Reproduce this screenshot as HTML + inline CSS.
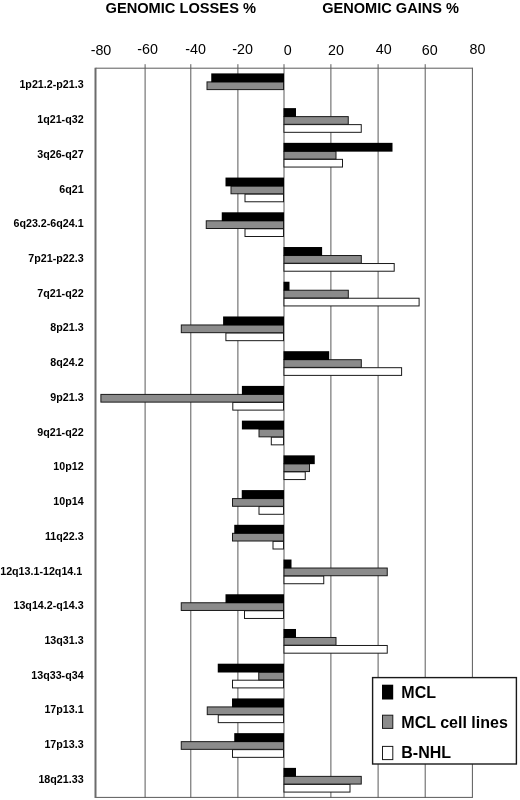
<!DOCTYPE html>
<html><head><meta charset="utf-8"><title>Genomic losses and gains</title>
<style>
html,body{margin:0;padding:0;background:#fff;}
body{width:520px;height:800px;overflow:hidden;}
svg{display:block;}
text{font-family:"Liberation Sans",Arial,sans-serif;fill:#000;}
.t{font-size:15.5px;font-weight:bold;}
.a{font-size:14.3px;text-anchor:middle;}
.c{font-size:10.7px;font-weight:bold;text-anchor:end;}
.l{font-size:16px;font-weight:bold;}
</style></head><body>
<svg width="520" height="800" viewBox="0 0 520 800">
<rect width="520" height="800" fill="#fff"/>
<text class="t" x="105.5" y="13.2" textLength="150.5" lengthAdjust="spacingAndGlyphs">GENOMIC LOSSES %</text>
<text class="t" x="322.2" y="13.2" textLength="136.8" lengthAdjust="spacingAndGlyphs">GENOMIC GAINS %</text>
<text class="a" x="101.00" y="54.9">-80</text>
<text class="a" x="147.55" y="53.8">-60</text>
<text class="a" x="195.60" y="53.8">-40</text>
<text class="a" x="242.55" y="54.2">-20</text>
<text class="a" x="287.85" y="54.5">0</text>
<text class="a" x="336.00" y="54.9">20</text>
<text class="a" x="383.65" y="53.6">40</text>
<text class="a" x="429.75" y="54.9">60</text>
<text class="a" x="477.45" y="53.6">80</text>
<line x1="145.1" y1="64.2" x2="145.1" y2="797.9" stroke="#5a5a5a" stroke-width="1"/>
<line x1="190.8" y1="64.2" x2="190.8" y2="797.9" stroke="#5a5a5a" stroke-width="1"/>
<line x1="237.9" y1="64.2" x2="237.9" y2="797.9" stroke="#5a5a5a" stroke-width="1"/>
<line x1="284.0" y1="64.2" x2="284.0" y2="797.9" stroke="#5a5a5a" stroke-width="1"/>
<line x1="330.9" y1="64.2" x2="330.9" y2="797.9" stroke="#5a5a5a" stroke-width="1"/>
<line x1="378.1" y1="64.2" x2="378.1" y2="797.9" stroke="#5a5a5a" stroke-width="1"/>
<line x1="425.2" y1="64.2" x2="425.2" y2="797.9" stroke="#5a5a5a" stroke-width="1"/>
<line x1="95.6" y1="68.2" x2="472.4" y2="68.2" stroke="#5a5a5a" stroke-width="1"/>
<line x1="95.6" y1="797.4" x2="472.4" y2="797.4" stroke="#5a5a5a" stroke-width="1"/>
<line x1="95.5" y1="67.7" x2="95.5" y2="797.9" stroke="#6c6c6c" stroke-width="2"/>
<line x1="472.4" y1="67.7" x2="472.4" y2="797.9" stroke="#5a5a5a" stroke-width="1"/>
<text class="c" x="83.6" y="88.4">1p21.2-p21.3</text>
<rect x="207.00" y="81.90" width="76.50" height="7.70" fill="#8b8b8b" stroke="#1a1a1a" stroke-width="1"/>
<rect x="211.25" y="73.40" width="72.75" height="8.80" fill="#000"/>
<text class="c" x="83.6" y="123.1">1q21-q32</text>
<rect x="284.00" y="124.62" width="77.25" height="7.70" fill="#fff" stroke="#1a1a1a" stroke-width="1"/>
<rect x="284.00" y="116.62" width="64.25" height="7.70" fill="#8b8b8b" stroke="#1a1a1a" stroke-width="1"/>
<rect x="283.50" y="108.12" width="12.50" height="8.80" fill="#000"/>
<text class="c" x="83.6" y="157.8">3q26-q27</text>
<rect x="284.00" y="159.35" width="58.50" height="7.70" fill="#fff" stroke="#1a1a1a" stroke-width="1"/>
<rect x="284.00" y="151.35" width="52.00" height="7.70" fill="#8b8b8b" stroke="#1a1a1a" stroke-width="1"/>
<rect x="283.50" y="142.85" width="109.00" height="8.80" fill="#000"/>
<text class="c" x="83.6" y="192.5">6q21</text>
<rect x="245.00" y="194.07" width="38.50" height="7.70" fill="#fff" stroke="#1a1a1a" stroke-width="1"/>
<rect x="231.00" y="186.07" width="52.50" height="7.70" fill="#8b8b8b" stroke="#1a1a1a" stroke-width="1"/>
<rect x="225.50" y="177.57" width="58.50" height="8.80" fill="#000"/>
<text class="c" x="83.6" y="227.3">6q23.2-6q24.1</text>
<rect x="245.00" y="228.80" width="38.50" height="7.70" fill="#fff" stroke="#1a1a1a" stroke-width="1"/>
<rect x="206.25" y="220.80" width="77.25" height="7.70" fill="#8b8b8b" stroke="#1a1a1a" stroke-width="1"/>
<rect x="221.75" y="212.30" width="62.25" height="8.80" fill="#000"/>
<text class="c" x="83.6" y="262.0">7p21-p22.3</text>
<rect x="284.00" y="263.52" width="110.20" height="7.70" fill="#fff" stroke="#1a1a1a" stroke-width="1"/>
<rect x="284.00" y="255.52" width="77.30" height="7.70" fill="#8b8b8b" stroke="#1a1a1a" stroke-width="1"/>
<rect x="283.50" y="247.02" width="38.60" height="8.80" fill="#000"/>
<text class="c" x="83.6" y="296.7">7q21-q22</text>
<rect x="284.00" y="298.24" width="135.10" height="7.70" fill="#fff" stroke="#1a1a1a" stroke-width="1"/>
<rect x="284.00" y="290.24" width="64.30" height="7.70" fill="#8b8b8b" stroke="#1a1a1a" stroke-width="1"/>
<rect x="283.50" y="281.74" width="6.00" height="8.80" fill="#000"/>
<text class="c" x="83.6" y="331.4">8p21.3</text>
<rect x="225.90" y="332.97" width="57.60" height="7.70" fill="#fff" stroke="#1a1a1a" stroke-width="1"/>
<rect x="181.30" y="324.97" width="102.20" height="7.70" fill="#8b8b8b" stroke="#1a1a1a" stroke-width="1"/>
<rect x="223.10" y="316.47" width="60.90" height="8.80" fill="#000"/>
<text class="c" x="83.6" y="366.2">8q24.2</text>
<rect x="284.00" y="367.69" width="117.60" height="7.70" fill="#fff" stroke="#1a1a1a" stroke-width="1"/>
<rect x="284.00" y="359.69" width="77.30" height="7.70" fill="#8b8b8b" stroke="#1a1a1a" stroke-width="1"/>
<rect x="283.50" y="351.19" width="45.70" height="8.80" fill="#000"/>
<text class="c" x="83.6" y="400.9">9p21.3</text>
<rect x="232.80" y="402.41" width="50.70" height="7.70" fill="#fff" stroke="#1a1a1a" stroke-width="1"/>
<rect x="100.90" y="394.41" width="182.60" height="7.70" fill="#8b8b8b" stroke="#1a1a1a" stroke-width="1"/>
<rect x="241.90" y="385.91" width="42.10" height="8.80" fill="#000"/>
<text class="c" x="83.6" y="435.6">9q21-q22</text>
<rect x="271.30" y="437.14" width="12.20" height="7.70" fill="#fff" stroke="#1a1a1a" stroke-width="1"/>
<rect x="259.00" y="429.14" width="24.50" height="7.70" fill="#8b8b8b" stroke="#1a1a1a" stroke-width="1"/>
<rect x="241.90" y="420.64" width="42.10" height="8.80" fill="#000"/>
<text class="c" x="83.6" y="470.3">10p12</text>
<rect x="284.00" y="471.86" width="21.25" height="7.70" fill="#fff" stroke="#1a1a1a" stroke-width="1"/>
<rect x="284.00" y="463.86" width="25.50" height="7.70" fill="#8b8b8b" stroke="#1a1a1a" stroke-width="1"/>
<rect x="283.50" y="455.36" width="31.25" height="8.80" fill="#000"/>
<text class="c" x="83.6" y="505.0">10p14</text>
<rect x="259.00" y="506.59" width="24.50" height="7.70" fill="#fff" stroke="#1a1a1a" stroke-width="1"/>
<rect x="232.50" y="498.59" width="51.00" height="7.70" fill="#8b8b8b" stroke="#1a1a1a" stroke-width="1"/>
<rect x="241.75" y="490.09" width="42.25" height="8.80" fill="#000"/>
<text class="c" x="83.6" y="539.8">11q22.3</text>
<rect x="273.00" y="541.31" width="10.50" height="7.70" fill="#fff" stroke="#1a1a1a" stroke-width="1"/>
<rect x="232.50" y="533.31" width="51.00" height="7.70" fill="#8b8b8b" stroke="#1a1a1a" stroke-width="1"/>
<rect x="234.25" y="524.81" width="49.75" height="8.80" fill="#000"/>
<text class="c" x="82.2" y="574.5">12q13.1-12q14.1</text>
<rect x="284.00" y="576.03" width="39.75" height="7.70" fill="#fff" stroke="#1a1a1a" stroke-width="1"/>
<rect x="284.00" y="568.03" width="103.25" height="7.70" fill="#8b8b8b" stroke="#1a1a1a" stroke-width="1"/>
<rect x="283.50" y="559.53" width="8.00" height="8.80" fill="#000"/>
<text class="c" x="83.6" y="609.2">13q14.2-q14.3</text>
<rect x="244.50" y="610.76" width="39.00" height="7.70" fill="#fff" stroke="#1a1a1a" stroke-width="1"/>
<rect x="181.25" y="602.76" width="102.25" height="7.70" fill="#8b8b8b" stroke="#1a1a1a" stroke-width="1"/>
<rect x="225.50" y="594.26" width="58.50" height="8.80" fill="#000"/>
<text class="c" x="83.6" y="643.9">13q31.3</text>
<rect x="284.00" y="645.48" width="103.25" height="7.70" fill="#fff" stroke="#1a1a1a" stroke-width="1"/>
<rect x="284.00" y="637.48" width="52.00" height="7.70" fill="#8b8b8b" stroke="#1a1a1a" stroke-width="1"/>
<rect x="283.50" y="628.98" width="12.50" height="8.80" fill="#000"/>
<text class="c" x="83.6" y="678.7">13q33-q34</text>
<rect x="232.50" y="680.20" width="51.00" height="7.70" fill="#fff" stroke="#1a1a1a" stroke-width="1"/>
<rect x="258.75" y="672.20" width="24.75" height="7.70" fill="#8b8b8b" stroke="#1a1a1a" stroke-width="1"/>
<rect x="217.75" y="663.70" width="66.25" height="8.80" fill="#000"/>
<text class="c" x="83.6" y="713.4">17p13.1</text>
<rect x="218.25" y="714.93" width="65.25" height="7.70" fill="#fff" stroke="#1a1a1a" stroke-width="1"/>
<rect x="207.25" y="706.93" width="76.25" height="7.70" fill="#8b8b8b" stroke="#1a1a1a" stroke-width="1"/>
<rect x="232.00" y="698.43" width="52.00" height="8.80" fill="#000"/>
<text class="c" x="83.6" y="748.1">17p13.3</text>
<rect x="232.50" y="749.65" width="51.00" height="7.70" fill="#fff" stroke="#1a1a1a" stroke-width="1"/>
<rect x="181.25" y="741.65" width="102.25" height="7.70" fill="#8b8b8b" stroke="#1a1a1a" stroke-width="1"/>
<rect x="234.25" y="733.15" width="49.75" height="8.80" fill="#000"/>
<text class="c" x="83.6" y="782.8">18q21.33</text>
<rect x="284.00" y="784.38" width="66.00" height="7.70" fill="#fff" stroke="#1a1a1a" stroke-width="1"/>
<rect x="284.00" y="776.38" width="77.25" height="7.70" fill="#8b8b8b" stroke="#1a1a1a" stroke-width="1"/>
<rect x="283.50" y="767.88" width="12.50" height="8.80" fill="#000"/>
<rect x="372.6" y="677.6" width="143.8" height="86.4" fill="#fff" stroke="#1a1a1a" stroke-width="1.4"/>
<rect x="382" y="684.7" width="11.2" height="14.8" fill="#000"/>
<rect x="382.5" y="715.2" width="10.3" height="13.2" fill="#8b8b8b" stroke="#1a1a1a" stroke-width="1"/>
<rect x="382.5" y="746.4" width="10.3" height="13.2" fill="#fff" stroke="#1a1a1a" stroke-width="1"/>
<text class="l" x="401.3" y="698.0">MCL</text>
<text class="l" x="401.3" y="728.4" textLength="106.5" lengthAdjust="spacingAndGlyphs">MCL cell lines</text>
<text class="l" x="401.3" y="758.4">B-NHL</text>
</svg>
</body></html>
